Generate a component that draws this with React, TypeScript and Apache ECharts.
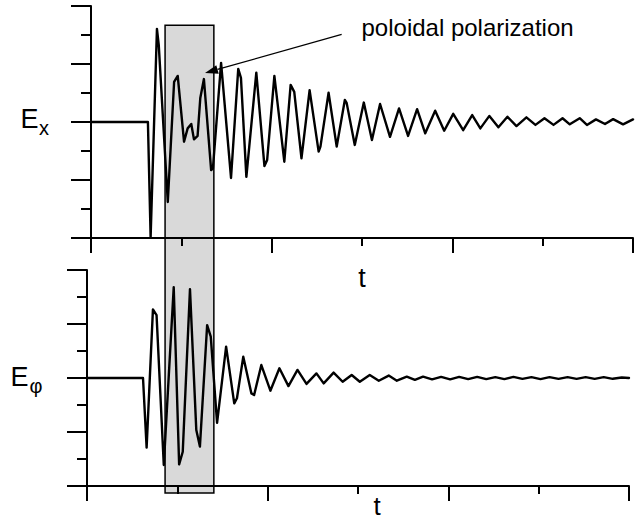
import React, { useEffect, useRef } from "react";
import * as echarts from "echarts";

// Axis ranges (both panels share the same scales)
const tRange = [0, 6];
const tMajor = 2;
const eRange = [-4, 4];
const eMajor = 2;

// E_x signal (upper panel): [t, E]
const exSignal: [number, number][] = [
  [0, 0], [0.63, 0], [0.66, -3.97], [0.73, 3.21], [0.75, 2.66], [0.85, -2.76],
  [0.92, 1.38], [0.96, 1.59], [1.03, -0.68], [1.07, -0.22], [1.11, -0.07],
  [1.14, -0.6], [1.18, -0.48], [1.21, 0.83], [1.25, 1.48], [1.33, -1.66],
  [1.35, -1.59], [1.44, 2.04], [1.55, -1.93], [1.63, 1.83], [1.66, 1.52],
  [1.72, -1.89], [1.83, 1.7], [1.92, -1.52], [1.95, -1.31], [2.03, 1.59],
  [2.14, -1.37], [2.21, 1.28], [2.25, 1.04], [2.33, -1.25], [2.42, 1.1],
  [2.52, -1.02], [2.54, -0.85], [2.63, 1.01], [2.72, -0.85], [2.81, 0.76],
  [2.83, 0.66], [2.92, -0.79], [3.02, 0.67], [3.11, -0.62], [3.2, 0.62],
  [3.31, -0.51], [3.41, 0.47], [3.51, -0.48], [3.61, 0.44], [3.7, -0.39],
  [3.81, 0.39], [3.91, -0.3], [4.01, 0.28], [4.12, -0.28], [4.22, 0.24],
  [4.31, -0.22], [4.41, 0.21], [4.51, -0.18], [4.61, 0.18], [4.71, -0.14],
  [4.82, 0.16], [4.92, -0.1], [5.02, 0.13], [5.12, -0.1], [5.22, 0.13],
  [5.3, -0.08], [5.41, 0.13], [5.49, -0.1], [5.59, 0.09], [5.69, -0.07],
  [5.78, 0.1], [5.89, -0.08], [6.0, 0.09],
];

// E_phi signal (lower panel): [t, E]
const ephiSignal: [number, number][] = [
  [0, 0], [0.62, 0], [0.66, -2.58], [0.73, 2.54], [0.77, 2.33], [0.85, -3.22],
  [0.96, 3.36], [1.02, -3.2], [1.06, -2.73], [1.14, 3.29], [1.21, -1.93],
  [1.25, -2.54], [1.33, 1.96], [1.37, 1.53], [1.44, -1.66], [1.54, 1.16],
  [1.63, -0.94], [1.66, -0.75], [1.73, 0.79], [1.82, -0.57], [1.85, -0.63],
  [1.93, 0.48], [2.03, -0.47], [2.13, 0.36], [2.23, -0.3], [2.33, 0.3],
  [2.43, -0.22], [2.54, 0.17], [2.62, -0.2], [2.73, 0.2], [2.83, -0.14],
  [2.93, 0.11], [3.02, -0.14], [3.13, 0.11], [3.23, -0.1], [3.34, 0.09],
  [3.43, -0.1], [3.54, 0.05], [3.63, -0.07], [3.72, 0.05], [3.82, -0.05],
  [3.92, 0.04], [4.02, -0.05], [4.12, 0.04], [4.22, -0.04], [4.32, 0.04],
  [4.42, -0.04], [4.52, 0.03], [4.62, -0.04], [4.72, 0.04], [4.82, -0.03],
  [4.92, 0.03], [5.02, -0.04], [5.12, 0.03], [5.22, -0.03], [5.32, 0.03],
  [5.42, -0.03], [5.52, 0.03], [5.62, -0.03], [5.72, 0.03], [5.82, -0.03],
  [5.92, 0.02], [6.0, 0],
];

// Highlighted window (t in upper-panel units; top edge in upper E units, bottom edge in lower E units)
const boxT = [0.82, 1.36];
const boxTopE = 3.34;
const boxBottomE = -4.26;

// Annotation arrow (upper-panel data units)
const arrowFrom = [2.775, 3.02];
const arrowTo = [1.262, 1.69];
const annotationText = "poloidal polarization";

const FONT = "'Liberation Sans', Arial, Helvetica, sans-serif";

export default function App() {
  const ref = useRef<HTMLDivElement>(null);

  useEffect(() => {
    if (!ref.current) return;
    const chart = echarts.init(ref.current, undefined, {
      renderer: "svg",
      width: 640,
      height: 520,
    });
    const ls = { color: "#000", width: 2 };
    const mkX = (gi: number) => ({
      type: "value",
      gridIndex: gi,
      min: tRange[0],
      max: tRange[1],
      interval: tMajor,
      z: 5,
      axisLine: { show: true, onZero: false, lineStyle: ls },
      axisTick: { show: true, inside: false, length: 15, lineStyle: ls },
      minorTick: { show: true, splitNumber: 2, length: 8, lineStyle: ls },
      axisLabel: { show: false },
      splitLine: { show: false },
      minorSplitLine: { show: false },
    });
    const mkY = (gi: number) => ({
      type: "value",
      gridIndex: gi,
      min: eRange[0],
      max: eRange[1],
      interval: eMajor,
      z: 5,
      axisLine: { show: true, onZero: false, lineStyle: ls },
      axisTick: { show: true, inside: false, length: 20, lineStyle: ls },
      minorTick: { show: true, splitNumber: 2, length: 10, lineStyle: ls },
      axisLabel: { show: false },
      splitLine: { show: false },
      minorSplitLine: { show: false },
    });

    const lineStyle = { color: "#000", width: 2.4, join: "round", cap: "round" };

    chart.setOption({
      animation: false,
      backgroundColor: "#fff",
      grid: [
        { left: 91, top: 6, width: 542, height: 232, containLabel: false, outerBoundsMode: "none" },
        { left: 87, top: 270, width: 542, height: 216, containLabel: false, outerBoundsMode: "none" },
      ],
      xAxis: [mkX(0), mkX(1)],
      yAxis: [mkY(0), mkY(1)],
      series: [
        {
          type: "line",
          xAxisIndex: 0,
          yAxisIndex: 0,
          data: exSignal,
          showSymbol: false,
          symbol: "none",
          z: 6,
          lineStyle,
        },
        {
          type: "line",
          xAxisIndex: 1,
          yAxisIndex: 1,
          data: ephiSignal,
          showSymbol: false,
          symbol: "none",
          z: 6,
          lineStyle,
        },
      ],
    });

    const tl = chart.convertToPixel({ seriesIndex: 0 }, [boxT[0], boxTopE]) as number[];
    const trTop = chart.convertToPixel({ seriesIndex: 0 }, [boxT[1], boxTopE]) as number[];
    const bl = chart.convertToPixel({ seriesIndex: 1 }, [0, boxBottomE]) as number[];
    const a0 = chart.convertToPixel({ seriesIndex: 0 }, arrowFrom) as number[];
    const a1 = chart.convertToPixel({ seriesIndex: 0 }, arrowTo) as number[];

    const dx = a1[0] - a0[0];
    const dy = a1[1] - a0[1];
    const len = Math.sqrt(dx * dx + dy * dy);
    const ux = dx / len;
    const uy = dy / len;
    const headL = 13;
    const headW = 4.5;
    const bx = a1[0] - ux * headL;
    const by = a1[1] - uy * headL;

    chart.setOption({
      graphic: [
        {
          type: "rect",
          z: 1,
          shape: { x: tl[0], y: tl[1], width: trTop[0] - tl[0], height: bl[1] - tl[1] },
          style: { fill: "#d9d9d9", stroke: "#000", lineWidth: 1.5 },
        },
        {
          type: "line",
          z: 10,
          shape: { x1: a0[0], y1: a0[1], x2: bx, y2: by },
          style: { stroke: "#000", lineWidth: 1.3 },
        },
        {
          type: "polygon",
          z: 10,
          shape: {
            points: [
              [a1[0], a1[1]],
              [bx - uy * headW, by + ux * headW],
              [bx + uy * headW, by - ux * headW],
            ],
          },
          style: { fill: "#000" },
        },
        {
          type: "text",
          z: 10,
          x: 361.5,
          y: 27,
          style: { text: annotationText, fill: "#000", font: `24px ${FONT}`, textAlign: "left", textVerticalAlign: "middle" },
        },
        {
          type: "text",
          z: 10,
          x: 20.5,
          y: 118.5,
          style: { text: "E", fill: "#000", font: `27px ${FONT}`, textAlign: "left", textVerticalAlign: "middle" },
        },
        {
          type: "text",
          z: 10,
          x: 39,
          y: 128,
          style: { text: "x", fill: "#000", font: `20px ${FONT}`, textAlign: "left", textVerticalAlign: "middle" },
        },
        {
          type: "text",
          z: 10,
          x: 10.5,
          y: 377,
          style: { text: "E", fill: "#000", font: `27px ${FONT}`, textAlign: "left", textVerticalAlign: "middle" },
        },
        {
          type: "text",
          z: 10,
          x: 29.5,
          y: 386,
          style: { text: "φ", fill: "#000", font: `20px ${FONT}`, textAlign: "left", textVerticalAlign: "middle" },
        },
        {
          type: "text",
          z: 10,
          x: 362,
          y: 278,
          style: { text: "t", fill: "#000", font: `27px ${FONT}`, textAlign: "center", textVerticalAlign: "middle" },
        },
        {
          type: "text",
          z: 10,
          x: 377,
          y: 506,
          style: { text: "t", fill: "#000", font: `26px ${FONT}`, textAlign: "center", textVerticalAlign: "middle" },
        },
      ],
    });

    return () => {
      chart.dispose();
    };
  }, []);

  return (
    <div
      ref={ref}
      style={{ position: "fixed", left: 0, top: 0, width: 640, height: 520, background: "#fff" }}
    />
  );
}
